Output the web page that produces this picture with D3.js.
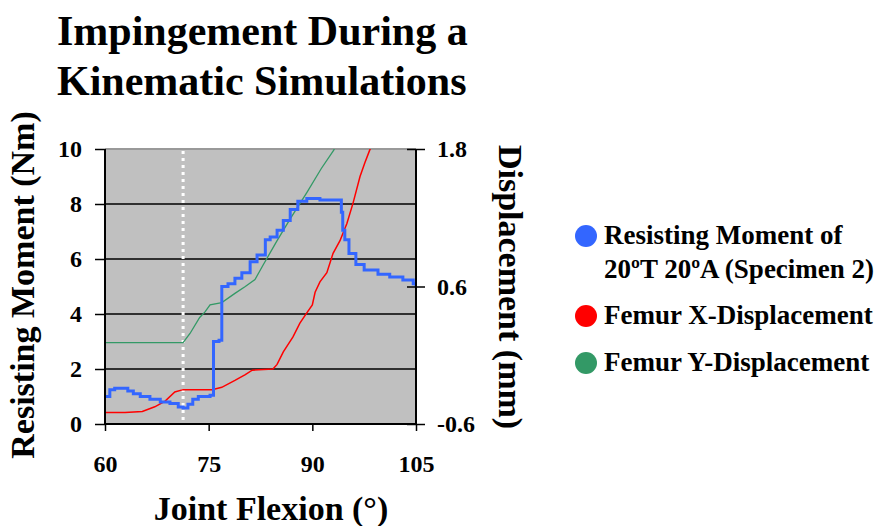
<!DOCTYPE html>
<html><head><meta charset="utf-8">
<script src="https://cdn.jsdelivr.net/npm/d3@7"></script>
<style>body{margin:0;background:#fff}svg{display:block}text{font-family:"Liberation Serif","Times New Roman",serif;font-weight:bold;fill:#000}</style>
</head><body><svg id="c" width="881" height="526"></svg>
<script>
const titleLines = ["Impingement During a", "Kinematic Simulations"];
const xTicks = [60, 75, 90, 105];
const yLeftTicks = [0, 2, 4, 6, 8, 10];
const yLeftLabels = ["0", "2", "4", "6", "8", "10"];
const yRightTicks = [-0.6, 0.6, 1.8];
const yRightLabels = ["-0.6", "0.6", "1.8"];
const markerFlexion = 71.3;
// Resisting moment (Nm) vs flexion
const momentFlex = [60.0,60.4,60.7,61.4,62.5,63.3,64.1,65.1,66.5,68.0,69.4,70.6,71.3,72.0,72.7,73.5,74.5,75.2,75.7,76.5,76.9,77.8,78.8,79.8,81.0,82.0,83.2,83.9,84.9,85.8,86.8,87.9,89.2,91.1,93.7,94.2,94.4,94.7,95.3,96.3,97.5,99.5,101.2,103.1,104.6,105.0];
const momentVal  = [1.0,1.0,1.25,1.3,1.3,1.2,1.1,1.0,0.9,0.8,0.75,0.62,0.58,0.72,0.9,1.0,1.0,1.05,3.0,3.05,5.0,5.1,5.3,5.5,5.9,6.15,6.7,6.8,7.05,7.4,7.8,8.1,8.2,8.15,8.15,7.7,7.05,6.7,6.2,5.8,5.6,5.45,5.35,5.24,5.1,5.0];
// Femur X displacement (mm)
const xDispFlex = [60.0,62.9,65.4,67.2,68.7,70.1,71.3,75.5,76.9,78.8,80.3,81.3,84.3,84.9,85.8,87.2,88.2,89.2,90.0,90.4,91.1,92.1,93.0,94.0,95.0,95.9,96.9,97.6,98.3,98.8];
const xDispVal  = [-0.50,-0.50,-0.49,-0.45,-0.40,-0.32,-0.30,-0.30,-0.28,-0.22,-0.17,-0.13,-0.12,-0.08,0.03,0.16,0.28,0.37,0.44,0.55,0.64,0.72,0.89,1.00,1.15,1.33,1.56,1.68,1.79,1.86];
// Femur Y displacement (mm)
const yDispFlex = [60.0,71.3,72.3,73.7,74.5,75.2,76.9,78.8,80.3,81.7,82.9,84.9,87.0,89.2,91.3,93.1,93.6];
const yDispVal  = [0.11,0.11,0.19,0.33,0.38,0.44,0.46,0.54,0.60,0.66,0.79,1.0,1.21,1.42,1.63,1.79,1.86];
const legendLabels = [["Resisting Moment of","20ºT 20ºA (Specimen 2)"],["Femur X-Displacement"],["Femur Y-Displacement"]];
const colors = ["#3366ff","#ff0000","#339966"];

const svg = d3.select("#c");
const L = 105, R = 416, T = 149, B = 424;
const x = d3.scaleLinear().domain([60,105]).range([L,R]);
const yL = d3.scaleLinear().domain([0,10]).range([B,T]);
const yR = d3.scaleLinear().domain([-0.6,1.8]).range([B,T]);

svg.append("defs").append("clipPath").attr("id","clip").append("rect").attr("x",L).attr("y",T).attr("width",R-L).attr("height",B-T);

svg.append("rect").attr("x",L).attr("y",T).attr("width",R-L).attr("height",B-T).attr("fill","#c0c0c0");
// gridlines
svg.append("g").selectAll("line").data([2,4,6,8]).join("line")
  .attr("x1",L).attr("x2",R).attr("y1",d=>yL(d)).attr("y2",d=>yL(d)).attr("stroke","#000").attr("stroke-width",1.5);
svg.append("line").attr("x1",L).attr("x2",R).attr("y1",T).attr("y2",T).attr("stroke","#999").attr("stroke-width",2);

// marker dotted line
svg.append("line").attr("x1",x(markerFlexion)).attr("x2",x(markerFlexion)).attr("y1",T+2).attr("y2",B)
  .attr("stroke","#fff").attr("stroke-width",3).attr("stroke-dasharray","3,4");

const g = svg.append("g").attr("clip-path","url(#clip)");
g.append("path").datum(d3.zip(yDispFlex,yDispVal)).attr("fill","none").attr("stroke",colors[2]).attr("stroke-width",1.3)
  .attr("d",d3.line().x(d=>x(d[0])).y(d=>yR(d[1])));
g.append("path").datum(d3.zip(xDispFlex,xDispVal)).attr("fill","none").attr("stroke",colors[1]).attr("stroke-width",1.5)
  .attr("d",d3.line().x(d=>x(d[0])).y(d=>yR(d[1])));
g.append("path").datum(d3.zip(momentFlex,momentVal)).attr("fill","none").attr("stroke",colors[0]).attr("stroke-width",3)
  .attr("d",d3.line().curve(d3.curveStepAfter).x(d=>x(d[0])).y(d=>yL(d[1])));

// axes
const axL = svg.append("g").attr("transform",`translate(${L},0)`).call(d3.axisLeft(yL).tickValues(yLeftTicks).tickFormat((d,i)=>yLeftLabels[i]).tickSize(10).tickPadding(13));
const axR = svg.append("g").attr("transform",`translate(${R},0)`).call(d3.axisRight(yR).tickValues(yRightTicks).tickFormat((d,i)=>yRightLabels[i]).tickSize(9).tickPadding(12));
axR.selectAll(".tick line").attr("x1",-9);
const axB = svg.append("g").attr("transform",`translate(0,${B})`).call(d3.axisBottom(x).tickValues(xTicks).tickSize(7).tickPadding(24));
[axL,axR,axB].forEach(a=>{
  a.select(".domain").attr("stroke","#000").attr("stroke-width",2);
  a.selectAll(".tick line").attr("stroke","#000").attr("stroke-width",1.5);
  a.selectAll("text").attr("font-size",24).attr("font-family","Liberation Serif").attr("font-weight","bold").attr("fill","#000");
});
axL.select(".domain").attr("d",`M0,${T}V${B}`);
axR.select(".domain").attr("d",`M0,${T}V${B}`);
axB.select(".domain").attr("d",`M${L},0H${R}`);

// titles
svg.append("g").selectAll("text").data(titleLines).join("text")
  .attr("x",57).attr("y",(d,i)=>45+i*50).attr("font-size",42).text(d=>d);
svg.append("text").attr("transform","translate(34,285) rotate(-90)").attr("text-anchor","middle").attr("font-size",34).text("Resisting Moment (Nm)");
svg.append("text").attr("transform","translate(499,287) rotate(90)").attr("text-anchor","middle").attr("font-size",34).text("Displacement (mm)");
svg.append("text").attr("x",271).attr("y",520).attr("text-anchor","middle").attr("font-size",34).text("Joint Flexion (°)");

// legend
const legY = [236,316,363];
const lg = svg.append("g");
legendLabels.forEach((lines,i)=>{
  lg.append("circle").attr("cx",586).attr("cy",legY[i]).attr("r",11).attr("fill",colors[i]);
  lines.forEach((t,j)=>{
    lg.append("text").attr("x",604).attr("y",legY[i]+8+j*34).attr("font-size",27).text(t);
  });
});
</script></body></html>
